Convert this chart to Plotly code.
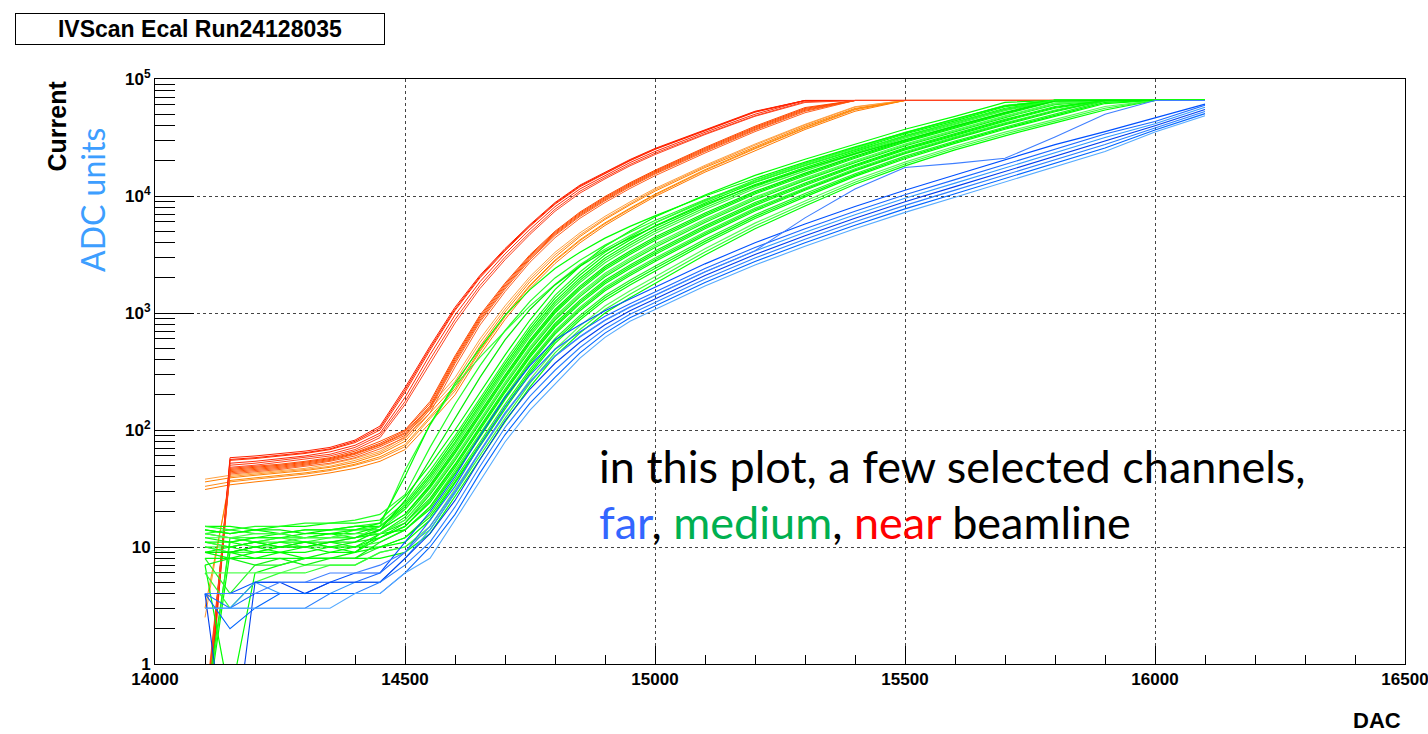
import plotly.graph_objects as go

SAT = 65535

# DAC scan points (x)
DAC = [14100, 14150, 14200, 14250, 14300, 14350, 14400, 14450, 14500, 14550,
       14600, 14650, 14700, 14750, 14800, 14850, 14900, 14950, 15000, 15100,
       15200, 15300, 15400, 15500, 15600, 15700, 15800, 15900, 16000, 16100]

# ---- near beamline: red bunch ----
red_a = [0.2, 58, 60, 63, 66, 71, 82, 108, 230, 520, 1120, 2100, 3550, 5700, 8800, 12400, 16000, 20500, 25500, 37000, 53000, SAT, SAT, SAT, SAT, SAT, SAT, SAT, SAT, SAT]
red_b = [0.15, 55, 57, 60, 63, 68, 78, 100, 210, 480, 1050, 2000, 3400, 5500, 8500, 12000, 15500, 20000, 25000, 36000, 52000, SAT, SAT, SAT, SAT, SAT, SAT, SAT, SAT, SAT]
red_c = [0.3, 52, 54, 57, 60, 65, 74, 94, 190, 440, 960, 1850, 3200, 5200, 8100, 11500, 15000, 19300, 24000, 35000, 50000, SAT, SAT, SAT, SAT, SAT, SAT, SAT, SAT, SAT]
red_d = [0.25, 50, 52, 55, 58, 62, 71, 90, 175, 400, 880, 1720, 3000, 4900, 7700, 11000, 14400, 18600, 23200, 34000, 48500, 64000, SAT, SAT, SAT, SAT, SAT, SAT, SAT, SAT]
red_e = [0.2, 56, 58, 61, 64, 69, 80, 104, 220, 500, 1080, 2050, 3480, 5600, 8650, 12200, 15700, 20200, 25200, 36500, 52500, SAT, SAT, SAT, SAT, SAT, SAT, SAT, SAT, SAT]
red_f = [0.3, 48, 50, 53, 56, 60, 68, 86, 165, 370, 820, 1620, 2850, 4700, 7400, 10600, 14000, 18100, 22600, 33500, 48000, 63000, SAT, SAT, SAT, SAT, SAT, SAT, SAT, SAT]

# ---- near beamline: red-orange bunch ----
rorg_a = [0.3, 47, 49, 51, 54, 58, 66, 80, 100, 175, 430, 960, 1800, 3150, 5000, 7300, 9900, 13000, 16600, 26000, 39500, 57000, SAT, SAT, SAT, SAT, SAT, SAT, SAT, SAT]
rorg_b = [0.2, 45, 47, 49, 52, 56, 63, 75, 95, 160, 400, 900, 1700, 3000, 4800, 7000, 9500, 12500, 16000, 25000, 38000, 55000, SAT, SAT, SAT, SAT, SAT, SAT, SAT, SAT]
rorg_c = [0.4, 43, 45, 47, 50, 54, 60, 72, 90, 150, 370, 840, 1600, 2850, 4600, 6700, 9100, 12000, 15400, 24000, 36500, 53000, SAT, SAT, SAT, SAT, SAT, SAT, SAT, SAT]
rorg_d = [0.25, 46, 48, 50, 53, 57, 64, 77, 98, 168, 415, 930, 1750, 3080, 4900, 7150, 9700, 12750, 16300, 25500, 38700, 56000, SAT, SAT, SAT, SAT, SAT, SAT, SAT, SAT]
rorg_e = [0.3, 42, 44, 46, 49, 52, 58, 69, 86, 140, 345, 790, 1520, 2720, 4400, 6450, 8800, 11600, 14900, 23300, 35500, 51500, SAT, SAT, SAT, SAT, SAT, SAT, SAT, SAT]
rorg_f = [0.35, 44, 46, 48, 51, 55, 62, 74, 93, 155, 385, 870, 1650, 2930, 4700, 6850, 9300, 12250, 15700, 24500, 37200, 54000, SAT, SAT, SAT, SAT, SAT, SAT, SAT, SAT]

# ---- near beamline: orange bunch ----
org_a = [36, 39, 41, 43, 45, 48, 53, 62, 80, 140, 240, 520, 1020, 1850, 3000, 4500, 6300, 8400, 11000, 17500, 26500, 39500, 56000, SAT, SAT, SAT, SAT, SAT, SAT, SAT]
org_b = [33, 36, 38, 40, 42, 45, 50, 57, 72, 125, 215, 470, 930, 1700, 2780, 4150, 5800, 7750, 10200, 16500, 25300, 38000, 54500, SAT, SAT, SAT, SAT, SAT, SAT, SAT]
org_c = [2.5, 40, 42, 44, 46, 49, 55, 64, 84, 150, 260, 560, 1080, 1950, 3150, 4650, 6450, 8600, 11300, 17900, 27200, 40500, 57500, SAT, SAT, SAT, SAT, SAT, SAT, SAT]
org_d = [31, 34, 36, 38, 40, 43, 47, 54, 68, 115, 200, 440, 880, 1620, 2650, 3980, 5600, 7500, 9900, 16000, 24500, 37000, 53000, SAT, SAT, SAT, SAT, SAT, SAT, SAT]
org_e = [38, 41, 43, 45, 47, 51, 57, 66, 88, 160, 280, 600, 1150, 2050, 3300, 4850, 6700, 8900, 11600, 18300, 27800, 41000, 58000, SAT, SAT, SAT, SAT, SAT, SAT, SAT]
org_f = [3, 37, 39, 41, 43, 46, 51, 59, 75, 130, 225, 485, 955, 1740, 2830, 4230, 5900, 7880, 10350, 16800, 25700, 38500, 55300, SAT, SAT, SAT, SAT, SAT, SAT, SAT]

# ---- medium distance: green ----
grn_01 = [15, 15, 14, 15, 15, 16, 16, 17, 27, 50, 100, 209, 437, 871, 1585, 2512, 3715, 5012, 6607, 10190, 15000, 20600, 27700, 37200, 47900, 63100, SAT, SAT, SAT, SAT]
grn_02 = [13, 14, 13, 13, 14, 14, 15, 16, 24, 45, 89, 186, 389, 776, 1413, 2239, 3311, 4467, 5888, 9180, 13700, 19000, 25800, 35000, 45200, 59600, SAT, SAT, SAT, SAT]
grn_03 = [0.4, 11, 12, 12, 12, 13, 13, 15, 22, 40, 79, 166, 347, 692, 1259, 1995, 2951, 3981, 5248, 8280, 12500, 17500, 24100, 32800, 42700, 56200, SAT, SAT, SAT, SAT]
grn_04 = [10, 9, 10, 11, 10, 11, 12, 14, 21, 36, 72, 151, 316, 631, 1148, 1820, 2692, 3631, 4786, 7620, 11600, 16400, 22800, 31200, 40700, 53700, SAT, SAT, SAT, SAT]
grn_05 = [14, 13, 14, 14, 13, 14, 14, 14, 19, 34, 68, 141, 295, 589, 1072, 1698, 2512, 3388, 4467, 7160, 10960, 15700, 21900, 30000, 39400, 51900, SAT, SAT, SAT, SAT]
grn_06 = [9, 8, 9, 9, 10, 9, 10, 13, 18, 32, 63, 132, 275, 550, 1000, 1585, 2344, 3162, 4169, 6730, 10400, 14900, 21000, 28900, 38000, 50100, 64600, SAT, SAT, SAT]
grn_07 = [12, 12, 11, 12, 12, 12, 12, 13, 17, 30, 59, 123, 257, 513, 933, 1479, 2188, 2951, 3890, 6320, 9820, 14200, 20100, 27800, 36700, 48400, 62400, SAT, SAT, SAT]
grn_08 = [8, 8, 8, 9, 8, 9, 9, 13, 16, 28, 55, 115, 240, 479, 871, 1380, 2042, 2754, 3631, 5940, 9290, 13600, 19300, 26800, 35500, 46800, 60300, SAT, SAT, SAT]
grn_09 = [11, 10, 11, 10, 11, 11, 11, 12, 16, 26, 51, 107, 224, 447, 813, 1288, 1905, 2570, 3388, 5580, 8790, 12900, 18500, 25800, 34300, 45200, 58200, SAT, SAT, SAT]
grn_10 = [7, 0.5, 6, 7, 8, 8, 9, 12, 15, 24, 48, 100, 209, 417, 759, 1202, 1778, 2399, 3162, 5250, 8320, 12300, 17800, 24800, 33100, 43700, 56200, SAT, SAT, SAT]
grn_11 = [10, 9, 9, 10, 10, 10, 10, 11, 14, 22, 45, 93, 195, 389, 708, 1122, 1660, 2239, 2951, 4930, 7870, 11700, 17100, 23900, 32000, 42200, 54300, SAT, SAT, SAT]
grn_12 = [13, 12, 12, 13, 12, 13, 12, 13, 14, 21, 42, 87, 182, 363, 661, 1047, 1549, 2089, 2754, 4630, 7450, 11200, 16400, 23000, 30900, 40700, 52500, SAT, SAT, SAT]
grn_13 = [8, 4, 7, 7, 8, 8, 8, 10, 12, 19, 38, 79, 166, 331, 603, 955, 1413, 1905, 2512, 4270, 6920, 10500, 15500, 21900, 29500, 38900, 50100, 64600, SAT, SAT]
grn_14 = [9, 9, 10, 9, 9, 10, 9, 10, 11, 17, 35, 72, 151, 302, 550, 871, 1288, 1738, 2291, 3930, 6430, 9820, 14700, 20800, 28200, 37200, 47900, 61700, SAT, SAT]
grn_15 = [6, 6, 6, 6, 7, 7, 7, 9, 10, 15, 31, 65, 135, 269, 490, 776, 1148, 1549, 2042, 3540, 5860, 9060, 13700, 19500, 26600, 35100, 45200, 58200, SAT, SAT]
grn_16 = [0.3, 9, 8, 8, 8, 8, 8, 8, 9, 13, 27, 56, 117, 234, 427, 676, 1000, 1349, 1778, 3130, 5250, 8220, 12600, 18100, 24800, 32700, 42200, 54300, SAT, SAT]
grn_17 = [11, 10, 11, 11, 12, 12, 14, 15, 45, 110, 240, 420, 700, 1150, 1750, 2600, 3500, 4600, 5900, 9000, 13500, 18800, 25500, 34500, 45000, 59000, SAT, SAT, SAT, SAT]
grn_18 = [14, 13, 14, 13, 14, 14, 15, 15, 23, 42, 84, 176, 367, 733, 1334, 2113, 3126, 4217, 5560, 8720, 13060, 18260, 24950, 33900, 43900, 57900, SAT, SAT, SAT, SAT]
grn_19 = [0.3, 12, 11, 12, 11, 12, 12, 15, 21, 38, 76, 158, 331, 661, 1202, 1905, 2818, 3802, 5012, 7943, 12020, 16980, 23440, 32000, 41690, 54950, SAT, SAT, SAT, SAT]
grn_20 = [10, 10, 11, 10, 11, 10, 11, 14, 19, 33, 65, 136, 285, 569, 1035, 1641, 2427, 3273, 4315, 6944, 10670, 15290, 21430, 29440, 38700, 51000, SAT, SAT, SAT, SAT]
grn_21 = [13, 12, 13, 13, 12, 12, 13, 13, 17, 29, 57, 119, 248, 495, 902, 1429, 2113, 2851, 3758, 6131, 9550, 13880, 19720, 27290, 36100, 47600, 61340, SAT, SAT, SAT]
grn_22 = [9, 10, 9, 10, 10, 11, 10, 12, 15, 25, 50, 104, 216, 432, 785, 1245, 1841, 2483, 3273, 5415, 8551, 12600, 18160, 25310, 33700, 44400, 57200, SAT, SAT, SAT]
grn_23 = [7, 8, 7, 8, 7, 8, 8, 11, 14, 22, 43, 90, 188, 376, 684, 1084, 1603, 2163, 2851, 4780, 7656, 11440, 16710, 23440, 31440, 41450, 53400, SAT, SAT, SAT]
grn_24 = [11, 11, 10, 11, 11, 10, 10, 10, 12, 18, 36, 76, 158, 316, 575, 912, 1349, 1820, 2399, 4093, 6668, 10140, 15070, 21330, 28840, 38020, 48980, 63100, SAT, SAT]
grn_25 = [6, 3, 5, 6, 6, 7, 7, 9, 10, 14, 29, 60, 126, 251, 457, 724, 1072, 1445, 1905, 3327, 5546, 8630, 13120, 18790, 25700, 33900, 43650, 56230, SAT, SAT]
grn_26 = [12, 11, 12, 12, 13, 13, 14, 16, 40, 112, 251, 501, 955, 1585, 2399, 3311, 4365, 5495, 6761, 10000, 14125, 19500, 26300, 34700, 45700, 58900, SAT, SAT, SAT, SAT]
grn_27 = [15, 14, 15, 15, 16, 16, 17, 19, 28, 71, 166, 355, 708, 1259, 1995, 2818, 3802, 4898, 6166, 9333, 13180, 18200, 24550, 32360, 42660, 54950, SAT, SAT, SAT, SAT]
grn_28 = [9, 9, 10, 10, 10, 11, 12, 14, 25, 56, 126, 282, 589, 1072, 1738, 2512, 3388, 4365, 5495, 8511, 12300, 17000, 22900, 30200, 39800, 51300, 64600, SAT, SAT, SAT]

# ---- far from beamline: blue ----
blu_1 = [4, 4, 5, 5, 5, 5, 6, 6, 11, 20, 40, 89, 191, 355, 589, 794, 1047, 1318, 1660, 2630, 3981, 5754, 8128, 11220, 15140, 20400, 27500, 35500, 46500, 61000]
blu_2 = [4, 3, 4, 4, 4, 5, 5, 6, 9, 17, 33, 74, 158, 295, 490, 692, 938, 1202, 1514, 2399, 3631, 5248, 7413, 10230, 13800, 18620, 25120, 33900, 43250, 59700]
blu_3 = [3, 3, 5, 4, 4, 4, 5, 5, 8, 14, 29, 65, 138, 257, 427, 624, 863, 1122, 1413, 2239, 3388, 4898, 6918, 9550, 12880, 17380, 23440, 31620, 41500, 57300]
blu_4 = [4, 0.1, 5, 5, 4, 5, 5, 5, 8, 13, 25, 56, 120, 224, 372, 562, 794, 1047, 1318, 2089, 3162, 4571, 6457, 8913, 12020, 16220, 21880, 29510, 39810, 54950]
blu_5 = [3, 3, 3, 3, 3, 4, 4, 5, 7, 11, 22, 49, 105, 195, 324, 507, 731, 977, 1230, 1950, 2951, 4266, 6026, 8318, 11220, 15140, 20420, 27540, 38200, 52700]
blu_6 = [4, 2, 3, 4, 4, 4, 4, 4, 6, 10, 19, 43, 91, 170, 282, 457, 673, 912, 1148, 1820, 2754, 3981, 5623, 7762, 10470, 14130, 19050, 25700, 36600, 50600]
blu_7 = [3, 3, 3, 3, 3, 3, 4, 4, 6, 8, 17, 37, 79, 148, 245, 412, 619, 851, 1072, 1698, 2570, 3715, 5248, 7244, 9772, 13180, 17780, 23990, 35200, 48500]
blu_8 = [4, 4, 4, 5, 5, 6, 6, 7, 9, 15, 30, 66, 140, 260, 430, 630, 870, 1130, 1420, 2250, 3400, 6500, 11500, 17500, 19000, 21000, 32000, 50000, SAT, SAT]

orange_lines = [org_a, org_b, org_c, org_d, org_e, org_f]
orange_cols = ["#ff8000", "#ff8c1a", "#ff9933", "#ff7a00", "#ffa040", "#ff8800"]
rorg_lines = [rorg_a, rorg_b, rorg_c, rorg_d, rorg_e, rorg_f]
rorg_cols = ["#ff4d00", "#ff5500", "#ff5a10", "#ff4400", "#ff6020", "#ff5008"]
red_lines = [red_a, red_b, red_c, red_d, red_e, red_f]
red_cols = ["#ff2200", "#ff3300", "#ff2a0a", "#ff3d14", "#ff1f00", "#ff4422"]
green_lines = [grn_01, grn_02, grn_03, grn_04, grn_05, grn_06, grn_07, grn_08, grn_09,
               grn_10, grn_11, grn_12, grn_13, grn_14, grn_15, grn_16, grn_17, grn_18,
               grn_19, grn_20, grn_21, grn_22, grn_23, grn_24, grn_25, grn_26, grn_27, grn_28]
green_cols = ["#00ff00", "#22ff22", "#00ff00", "#33ff33", "#00f000", "#00ff00", "#44ff44",
              "#00ff00", "#11ee11", "#00ff00", "#33ff33", "#00ff00", "#22f522", "#00ff00",
              "#55ff55", "#00ff00", "#33ff33", "#00ff00", "#22ff22", "#00f800", "#44ff44",
              "#00ff00", "#11f511", "#00ff00", "#33ff33", "#00ff00", "#22ff22", "#00ee00"]
blue_lines = [blu_1, blu_2, blu_3, blu_4, blu_5, blu_6, blu_7, blu_8]
blue_cols = ["#0050ff", "#1a6aff", "#3399ff", "#0040ee", "#2a80ff", "#0066ff", "#55aaff", "#3f7fff"]

# axis ticks
x_ticks = [14000, 14500, 15000, 15500, 16000, 16500]
x_ticktext = ["14000", "14500", "15000", "15500", "16000", "16500"]
y_ticks = [1, 10, 100, 1000, 10000, 100000]
y_ticktext = ["1", "10", "10<sup>2</sup>", "10<sup>3</sup>", "10<sup>4</sup>", "10<sup>5</sup>"]
y_minor = [m * d for d in [1, 10, 100, 1000, 10000] for m in range(2, 10)]

fig = go.Figure()
for group, cols, w in [(orange_lines, orange_cols, 1.0), (rorg_lines, rorg_cols, 1.0),
                       (red_lines, red_cols, 1.0), (green_lines, green_cols, 1.2),
                       (blue_lines, blue_cols, 1.1)]:
    for ys, c in zip(group, cols):
        fig.add_trace(go.Scatter(x=DAC, y=ys, mode="lines",
                                 line=dict(color=c, width=w), showlegend=False,
                                 hoverinfo="x+y"))

tickfont = dict(family="Liberation Sans, Arial, sans-serif", size=17, color="black", weight="bold")

fig.update_layout(
    width=1428, height=734,
    margin=dict(l=155, r=23, t=79, b=70, autoexpand=False),
    paper_bgcolor="white", plot_bgcolor="white",
    showlegend=False,
    xaxis=dict(range=[14000, 16500], tickmode="array", tickvals=x_ticks, ticktext=x_ticktext,
               ticks="inside", ticklen=18, tickcolor="black", tickwidth=1,
               minor=dict(ticks="inside", ticklen=9, dtick=100, tick0=14000, tickcolor="black", showgrid=False),
               showgrid=True, gridcolor="#444444", griddash="dot", gridwidth=1,
               showline=True, linecolor="black", linewidth=1, mirror=True,
               zeroline=False, tickfont=tickfont, ticklabeloverflow="allow"),
    yaxis=dict(type="log", range=[0, 5], tickmode="array", tickvals=y_ticks, ticktext=y_ticktext,
               ticks="inside", ticklen=39, tickcolor="black", tickwidth=1,
               minor=dict(ticks="inside", ticklen=20, tickmode="array", tickvals=y_minor,
                          tickcolor="black", showgrid=False),
               showgrid=True, gridcolor="#444444", griddash="dot", gridwidth=1,
               showline=True, linecolor="black", linewidth=1, mirror=True,
               zeroline=False, tickfont=tickfont, ticklabeloverflow="allow"),
)

annots = [
    dict(text="IVScan Ecal Run24128035", x=(200 - 155) / 1250, y=(664 - 29) / 585,
         xref="paper", yref="paper", xanchor="center", yanchor="middle",
         showarrow=False, width=368, height=30, borderwidth=1, bordercolor="black",
         borderpad=0, bgcolor="white",
         font=dict(family="Liberation Sans, Arial", size=23, color="black", weight="bold")),
    dict(text="Current", x=(56 - 155) / 1250, y=(664 - 78) / 585, xref="paper", yref="paper",
         xanchor="center", yanchor="top", textangle=-90, showarrow=False,
         font=dict(family="Liberation Sans, Arial", size=25, color="black", weight="bold")),
    dict(text="ADC units", x=(92 - 155) / 1250, y=(664 - 200) / 585, xref="paper", yref="paper",
         xanchor="center", yanchor="middle", textangle=-90, showarrow=False,
         font=dict(family="Lato, sans-serif", size=32, color="#3d9eff")),
    dict(text="DAC", x=(1403 - 155) / 1250, y=(664 - 720) / 585, xref="paper", yref="paper",
         xanchor="right", yanchor="middle", showarrow=False,
         font=dict(family="Liberation Sans, Arial", size=22, color="black", weight="bold")),
    dict(text="in this plot, a few selected channels,", x=(597 - 155) / 1250, y=(664 - 466) / 585,
         xref="paper", yref="paper", xanchor="left", yanchor="middle", showarrow=False,
         font=dict(family="Lato, sans-serif", size=45, color="black")),
    dict(text="<span style='color:#3366ff'>far</span>, <span style='color:#00b050'>medium</span>, "
              "<span style='color:#ff0000'>near</span> beamline",
         x=(597 - 155) / 1250, y=(664 - 522) / 585,
         xref="paper", yref="paper", xanchor="left", yanchor="middle", showarrow=False,
         font=dict(family="Lato, sans-serif", size=45, color="black")),
]
fig.update_layout(annotations=annots)

fig.write_html("out.html", config={"displayModeBar": False},
               post_script="document.body.style.margin='0px';")
